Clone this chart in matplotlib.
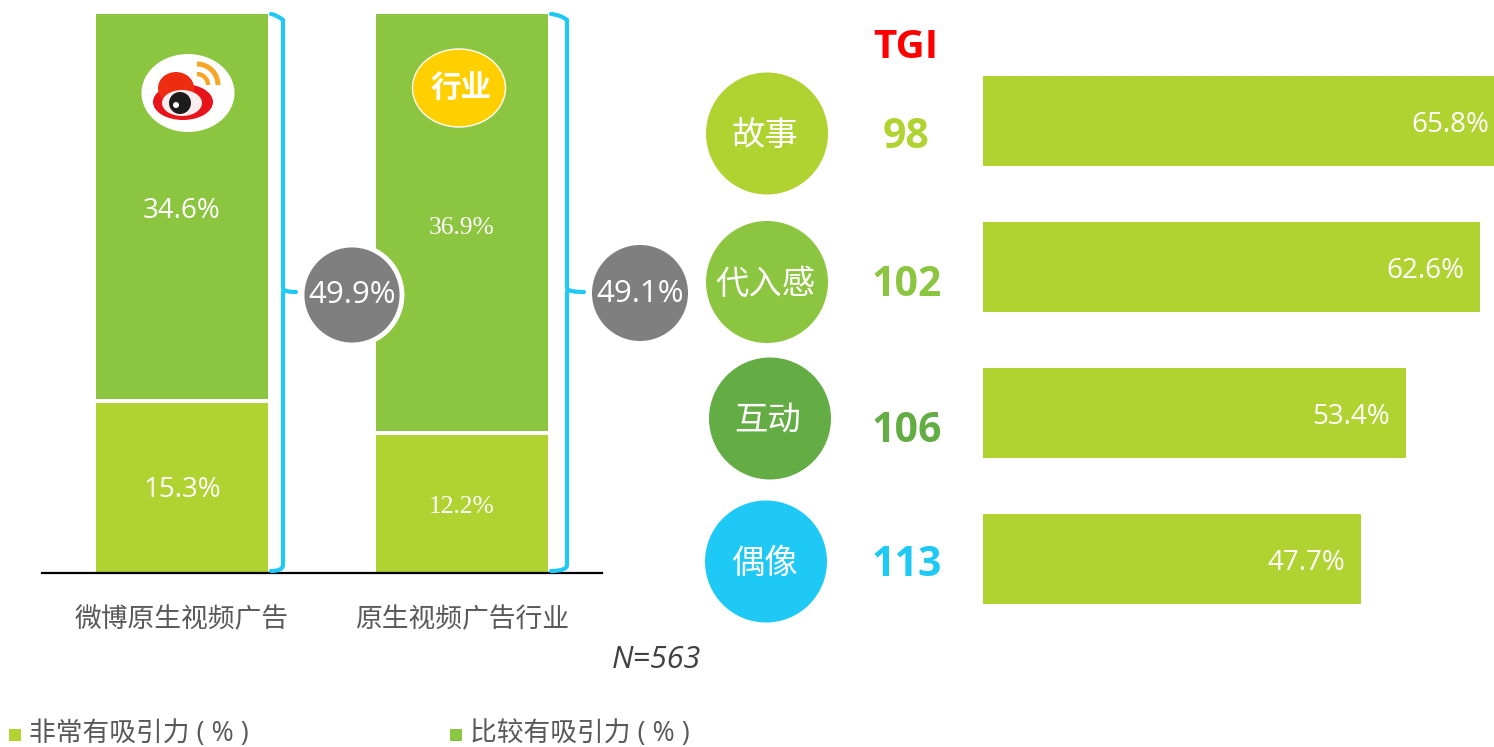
import matplotlib
matplotlib.use('Agg')
import matplotlib.pyplot as plt
from matplotlib.patches import Circle, Ellipse, Arc, PathPatch, Rectangle
from matplotlib.path import Path
import numpy as np

plt.rcParams['font.family'] = ['Open Sans', 'Noto Sans CJK SC', 'DejaVu Sans']

## ------------ data -----------
groups = ['微博原生视频广告', '原生视频广告行业']
very = [15.3, 12.2]        # 非常有吸引力
fairly = [34.6, 36.9]      # 比较有吸引力
totals = [49.9, 49.1]

themes = ['故事', '代入感', '互动', '偶像']
theme_pct = [65.8, 62.6, 53.4, 47.7]
# bars in the original are not quite in proportion to their labels, lengths read off the picture
theme_len = [65.8, 64.0, 54.5, 48.7]
tgi = [98, 102, 106, 113]

## ------------ colors -----------
c_light = '#b0d332'
c_mid = '#8cc540'
c_dark = '#64ad45'
c_blue = '#1ec9f6'
c_grey = '#7f7f7f'
c_text = '#595959'
theme_colors = [c_light, c_mid, c_dark, c_blue]

W, H = 1494, 747
fig = plt.figure(figsize=(W/100, H/100), dpi=100)

def px_axes(left, top, right, bottom):
    return fig.add_axes([left/W, 1-bottom/H, (right-left)/W, (bottom-top)/H])

## ------------ stacked bars (each bar filled to full height) -----------
ax = px_axes(42, 14, 602, 573)
share_very = np.array(very)/np.array(totals)
share_fairly = np.array(fairly)/np.array(totals)
pos = np.arange(2)
bar_w = 0.615
b1 = ax.bar(pos, share_very, width=bar_w, color=c_light, label='非常有吸引力（%）')
b2 = ax.bar(pos, share_fairly, width=bar_w, bottom=share_very, color=c_mid, label='比较有吸引力（%）')
ax.hlines(share_very, pos-bar_w/2, pos+bar_w/2, color='white', lw=2.9)
ax.set_xlim(-0.5, 1.5)
ax.set_ylim(-0.002, 1.0)
ax.set_xticks(pos, labels=groups)
ax.tick_params(axis='x', length=0, pad=24, labelsize=19.3, labelcolor=c_text)
ax.set_yticks([])
for s in ['top', 'left', 'right']:
    ax.spines[s].set_visible(False)
ax.spines['bottom'].set_linewidth(1.6)
ax.spines['bottom'].set_color('black')
for bars, vals in [(b1, very), (b2, fairly)]:
    labs = ax.bar_label(bars, labels=[f'{v}%' for v in vals], label_type='center', color='white', fontsize=20)
    labs[0].xyann = (0, -2.5)
    labs[1].xyann = (0, -3)
    labs[1].set_fontfamily('Liberation Serif')
    labs[1].set_fontsize(18.4)

## ------------ horizontal bars -----------
ax2 = px_axes(983, 48, 1494, 632)
ypos = np.arange(len(themes))
ax2.barh(ypos, theme_len, height=90/146, color=c_light)
ax2.set_xlim(0, 65.8)
ax2.set_ylim(3.5, -0.5)
ax2.axis('off')
for i, (ln, p) in enumerate(zip(theme_len, theme_pct)):
    pad = -5 if i == 0 else -16
    ax2.annotate(f'{p}%', (ln, i), xytext=(pad*0.72, -2.8), textcoords='offset points',
                 ha='right', va='center', color='white', fontsize=20, annotation_clip=False)

## ------------ overlay: circles, brackets, logos, notes (pixel coords) -----------
ov = fig.add_axes([0, 0, 1, 1], facecolor='none')
ov.set_xlim(0, W)
ov.set_ylim(H, 0)
ov.axis('off')

def bracket(x0, x1, tip):
    verts = [(x0, 14), (x1-6, 15), (x1, 20), (x1, 288), (x1, 292), (tip, 292),
             (x1, 292), (x1, 296), (x1, 565), (x1, 571), (x0, 571)]
    codes = [Path.MOVETO, Path.CURVE3, Path.CURVE3, Path.LINETO, Path.CURVE3, Path.CURVE3,
             Path.MOVETO, Path.CURVE3, Path.LINETO, Path.CURVE3, Path.CURVE3]
    ov.add_patch(PathPatch(Path(verts, codes), fc='none', ec=c_blue, lw=3.0, capstyle='round'))

bracket(271, 283, 296)
bracket(551, 567, 584)

ov.add_patch(Circle((352, 295), 50, fc=c_grey, ec='white', lw=3.5))
ov.add_patch(Circle((640, 293), 48, fc=c_grey, ec='none'))
for x, y, t in [(352, 295, totals[0]), (640, 294, totals[1])]:
    ov.text(x, y, f'{t}%', color='white', ha='center', va='center', fontsize=22.5)

centers = [(767, 133.5), (767, 282), (770, 418.5), (766, 561.5)]
tgi_pos = [(906.5, 138), (906.5, 285), (906.5, 432), (906.5, 566)]
for (x, y), (tx, ty), name, val, col in zip(centers, tgi_pos, themes, tgi, theme_colors):
    ov.add_patch(Circle((x, y), 61, fc=col, ec='none'))
    ov.text(x-2, y+3, name, color='white', ha='center', va='center', fontsize=24)
    ov.text(tx, ty, str(val), color=col, ha='center', va='center', fontsize=29.5, fontweight='bold')
ov.text(905.5, 48, 'TGI', color='#ff0000', ha='center', va='center', fontsize=29, fontweight='bold')

# weibo logo
ov.add_patch(Ellipse((188, 93), 93, 78, fc='white', ec='none'))
ov.add_patch(Ellipse((183, 102), 60, 36, fc='#e8141c', ec='none'))
ov.add_patch(Ellipse((176, 88), 36, 32, fc='#ee2c12', ec='none'))
ov.add_patch(Ellipse((182, 103), 40, 26, fc='#fbeeee', ec='none'))
ov.add_patch(Circle((180, 103), 11, fc='#1c1c1c', ec='none'))
ov.add_patch(Circle((176, 105), 3, fc='white', ec='none'))
ov.add_patch(Arc((197, 85), 42, 42, theta1=-90, theta2=0, ec='#f6a623', lw=3.6))
ov.add_patch(Arc((197, 85), 22, 22, theta1=-90, theta2=0, ec='#f6a623', lw=3.2))

# industry badge
ov.add_patch(Ellipse((459, 88), 93, 78, fc='#ffcf00', ec='white', lw=1))
ov.text(461, 90, '行业', color='white', ha='center', va='center', fontsize=22, fontweight='bold')

ov.text(656, 660, 'N=563', color='#404040', ha='center', va='center', fontsize=22, style='italic')

## ------------ legend -----------
ov.add_patch(Rectangle((9, 729), 12, 12, fc=c_light, ec='none'))
ov.add_patch(Rectangle((450, 729), 12, 12, fc=c_mid, ec='none'))
ov.text(29, 734, '非常有吸引力 ( % )', color=c_text, ha='left', va='center', fontsize=19.3)
ov.text(470, 734, '比较有吸引力 ( % )', color=c_text, ha='left', va='center', fontsize=19.3)

fig.savefig('out.png', dpi=100)
